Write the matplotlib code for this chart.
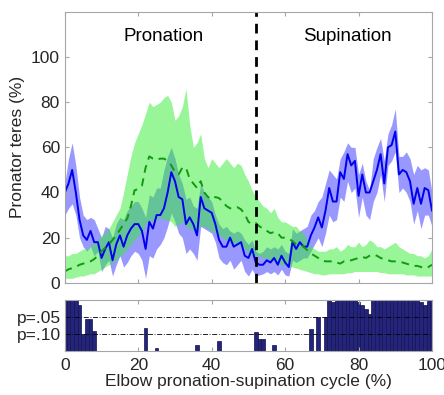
import numpy as np
import matplotlib
matplotlib.use("Agg")
import matplotlib.pyplot as plt

plt.rcParams['font.family'] = ['Liberation Sans', 'DejaVu Sans']

# cycle (%) sampled every 1 %
cycle = np.arange(0, 101)

# blue: mean and band limits (%)
blue_mean = [40, 44, 50, 40, 28, 21, 19, 23, 18, 18,
             11, 15, 18, 10, 17, 21, 16, 21, 24, 26,
             26, 23, 15, 27, 24, 30, 30, 33, 40, 49,
             45, 38, 37, 26, 29, 26, 21, 38, 33, 32,
             31, 26, 19, 16, 16, 20, 16, 17, 18, 12,
             11, 15, 9, 8, 8, 10, 9, 11, 8, 12,
             9, 7, 18, 15, 18, 16, 16, 21, 24.5, 29,
             24.5, 32, 42, 36, 36, 49, 46, 57, 52, 54,
             38.5, 48, 40, 40, 45, 50, 57, 44, 60, 61,
             67, 48, 50, 49, 45, 35, 42, 35, 42, 41,
             32]
blue_hi = [44, 55, 62, 52, 38, 30, 28, 29, 28, 24,
           20, 25, 24, 20, 26, 29, 28, 32, 34, 36,
           36, 33, 29, 39, 38, 42, 42, 50, 56, 60,
           55, 48, 44, 37, 38, 34, 33, 44, 40, 38,
           36, 30, 26, 24, 25, 23, 22, 23, 22, 19,
           17, 19, 14, 13, 14, 16, 15, 16, 15, 17,
           14, 13, 24, 22, 23, 24, 25, 30, 32, 36,
           38, 44, 50, 48, 46, 55, 58, 62, 60, 60,
           48, 53, 45, 41, 55, 60, 64, 54, 66, 70,
           77, 56, 56, 58, 55, 48, 52, 50, 51, 50,
           40]
blue_lo = [30, 33, 35, 30, 20, 16, 14, 16, 12, 14,
           5, 8, 10, 3, 8, 12, 7, 9, 12, 14,
           13, 10, 2, 12, 11, 15, 17, 20, 25, 31,
           27, 22, 20, 13, 15, 13, 10, 25, 24, 23,
           22, 18, 11, 9, 8, 10, 6, 8, 10, 5,
           3, 6, 3, 3.5, 4, 5, 4, 5, 3.5, 6,
           3.5, 3, 10, 9, 10, 11, 11, 14, 17, 20,
           16, 22, 30, 27, 28, 38, 36, 45, 40, 42,
           29, 38, 30, 28, 36, 40, 48, 36, 52, 54,
           58, 40, 42, 40, 36, 26, 32, 24, 30, 30,
           25]

# green: mean and band limits (%)
green_mean = [5, 6, 6.5, 7, 8, 8.5, 9, 9.5, 10.5, 12,
              14, 15.5, 17, 19, 21, 23.5, 26, 28.5, 34, 41,
              41.5, 43, 51, 56, 55, 54.5, 55, 55, 54, 52,
              49, 48, 51, 51, 46, 44, 42, 45, 40, 38,
              37, 38, 37.5, 36, 34, 33, 33, 33.5, 32.5, 30.5,
              27, 26, 26.5, 25, 24, 23, 22, 22.5, 22, 20,
              20, 19.5, 18.5, 17, 17, 16, 14.5, 13, 12, 11,
              10, 9.5, 9.5, 9.5, 9, 8.5, 9.5, 9.5, 10, 10.5,
              11, 11.5, 11, 12, 12.5, 12, 11, 10.5, 10, 9.5,
              9.5, 9.5, 9, 8.5, 8, 7.5, 7.5, 7, 6.5, 7,
              8]
green_hi = [12, 12, 13, 13, 14, 15, 15, 16, 18, 19,
            21, 22, 24, 27, 30, 33, 40, 48, 56, 62,
            66, 70, 75, 80, 78, 79, 80, 82, 83, 80,
            72, 74, 78, 86, 70, 60, 62, 66, 55, 51,
            55, 53, 51, 53, 55, 53, 51, 53, 52, 48,
            45, 41, 38, 36, 34, 33, 31, 33, 29, 27,
            27, 26, 25, 25, 23, 22, 19, 16, 15, 14,
            14, 14, 15, 15, 16, 14, 15, 17, 16, 16,
            18, 16, 17, 19, 18, 16, 16, 15, 16, 17,
            18, 16, 15, 14, 13, 13, 12, 12, 11, 12,
            15]
green_lo = [2, 2, 2, 2.5, 3, 3, 3.5, 4, 4, 5,
            6, 7, 8, 9, 10, 12, 13, 15, 17, 19,
            21, 22, 26, 28, 27, 28, 29, 28, 28, 27,
            25, 26, 27, 25, 24, 23, 24, 25, 25, 24,
            23, 22, 21, 20, 19, 18, 17, 17, 16, 15,
            13, 12, 12, 12, 11, 11, 10, 10, 9, 8,
            8, 7.5, 7, 6.5, 6, 5.5, 5, 4.5, 4, 4,
            3.5, 3.5, 4, 4, 4, 4, 4, 4.5, 4.5, 5,
            5, 5, 5, 5, 5, 5, 4.5, 4.5, 4, 4,
            4, 4, 4, 3.5, 3.5, 3.5, 3, 3, 3, 3,
            3]

# significance bars (fraction of panel height)
sig_level = [1.0, 1.0, 1.0, 1.0, 0.89, 0.33, 0.63, 0.63, 0.39, 0,
             0, 0, 0, 0, 0, 0, 0, 0, 0, 0,
             0, 0, 0.46, 0, 0, 0.07, 0, 0, 0, 0,
             0, 0, 0, 0, 0, 0, 0.12, 0, 0, 0,
             0, 0, 0.2, 0, 0, 0, 0, 0, 0, 0,
             0, 0, 0.37, 0.235, 0.235, 0, 0, 0.12, 0, 0,
             0, 0, 0, 0, 0, 0, 0, 0.43, 0, 0.66,
             0, 0.66, 1.0, 0.96, 1.0, 1.0, 1.0, 1.0, 1.0, 1.0,
             0.96, 0.9, 0.82, 0.73, 1.0, 1.0, 1.0, 1.0, 1.0, 1.0,
             1.0, 1.0, 1.0, 1.0, 1.0, 1.0, 1.0, 0.95, 0.9, 1.0,
             1.0]
p_ticks = [0.66, 0.33]
p_labels = ['p=.05', 'p=.10']

phase_split = 52
x_ticks = [0, 20, 40, 60, 80, 100]
y_ticks = [0, 20, 40, 60, 80, 100]

fig = plt.figure(figsize=(4.44, 3.95), dpi=100)
ax = fig.add_axes([0.146, 0.284, 0.827, 0.686])
ax2 = fig.add_axes([0.146, 0.111, 0.827, 0.130])

frame = '#a6a6a6'
txt = '#262626'

ax.fill_between(cycle, blue_lo, blue_hi, color='#3333ff', alpha=0.5, linewidth=0)
ax.fill_between(cycle, green_lo, green_hi, color='#33ee33', alpha=0.5, linewidth=0)
ax.plot(cycle, blue_mean, color='#0000ee', linewidth=1.4)
ax.plot(cycle, green_mean, color='#119911', linewidth=1.4, dashes=(4, 3))
ax.axvline(phase_split, color='black', linewidth=2, dashes=(3.5, 2.5))
ax.text(27, 109, 'Pronation', ha='center', va='center', fontsize=13.5, color='black')
ax.text(77, 109, 'Supination', ha='center', va='center', fontsize=13.5, color='black')

ax.set_xlim(0, 100)
ax.set_ylim(0, 120)
ax.set_xticks(x_ticks)
ax.set_xticklabels([])
ax.set_yticks(y_ticks)
ax.set_ylabel('Pronator teres (%)', fontsize=12.5, color=txt)
ax.tick_params(direction='in', length=3, color=frame, labelsize=12.5, labelcolor=txt,
               top=True, right=True)
for s in ax.spines.values():
    s.set_color(frame)

ax2.bar(cycle, sig_level, width=1.0, color='#24247a', edgecolor='#111150', linewidth=0.5)
for p in p_ticks:
    ax2.axhline(p, color='black', linewidth=0.6, dashes=(6, 2, 1, 2))
ax2.set_xlim(0, 100)
ax2.set_ylim(0, 1)
ax2.set_xticks(x_ticks)
ax2.set_yticks(p_ticks)
ax2.set_yticklabels(p_labels)
ax2.set_xlabel('Elbow pronation-supination cycle (%)', fontsize=12.5, color=txt, labelpad=1)
ax2.tick_params(direction='in', length=3, color=frame, labelsize=12.5, labelcolor=txt,
                top=True, right=False, pad=5)
ax2.tick_params(axis='y', length=0, pad=3)
for s in ax2.spines.values():
    s.set_color(frame)

fig.savefig('out.png', dpi=100)
